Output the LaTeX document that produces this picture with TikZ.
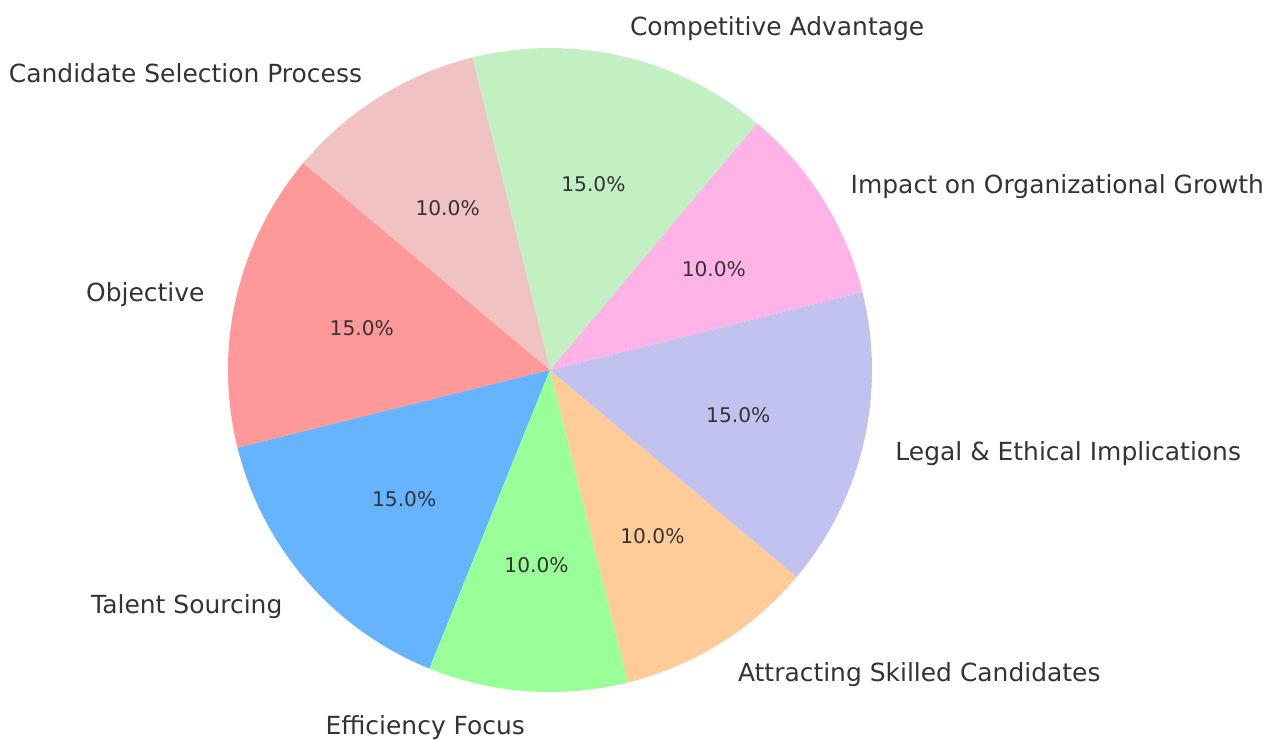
\documentclass[tikz,border=0pt]{standalone}
\usepackage{fontspec}
\setmainfont{DejaVu Sans}
\usepackage{xcolor}
\usetikzlibrary{calc}
\definecolor{objective}{HTML}{FF9999}
\definecolor{talent}{HTML}{66B3FF}
\definecolor{efficiency}{HTML}{99FF99}
\definecolor{attracting}{HTML}{FFCC99}
\definecolor{legal}{HTML}{C2C2F0}
\definecolor{impact}{HTML}{FFB3E6}
\definecolor{competitive}{HTML}{C2F0C2}
\definecolor{candidate}{HTML}{F0C2C2}

\begin{document}
\begin{tikzpicture}[x=0.02cm,y=0.02cm,
    label text/.style={font=\fontsize{14.2}{16}\selectfont,text=black!80,inner sep=0pt,yshift=-0.08cm},
    pct text/.style={font=\fontsize{11.5}{13}\selectfont,text=black!80,inner sep=0pt,yshift=-0.04cm}]
    \useasboundingbox (0,0) rectangle (1276,-740);
    \coordinate (c) at (550,-370);

    \foreach \a/\b/\col/\txt/\pc/\side [count=\i] in {
        140/194/objective/Objective/15.0/east,
        194/248/talent/Talent Sourcing/15.0/east,
        248/284/efficiency/Efficiency Focus/10.0/east,
        284/320/attracting/Attracting Skilled Candidates/10.0/west,
        320/374/legal/{Legal \& Ethical Implications}/15.0/west,
        374/410/impact/Impact on Organizational Growth/10.0/west,
        410/464/competitive/Competitive Advantage/15.0/west,
        464/500/candidate/Candidate Selection Process/10.0/east}
    {
        \pgfmathsetmacro\m{(\a+\b)/2}
        \fill[\col] (c) -- ($(c)+(\a:322)$) arc[start angle=\a,end angle=\b,radius=322] -- cycle;
        \node[pct text] (pct\i) at ($(c)+(\m:193.2)$) {\pc\%};
        \node[label text,anchor=\side] (lab\i) at ($(c)+(\m:354.2)$) {\txt};
    }
\end{tikzpicture}
\end{document}
